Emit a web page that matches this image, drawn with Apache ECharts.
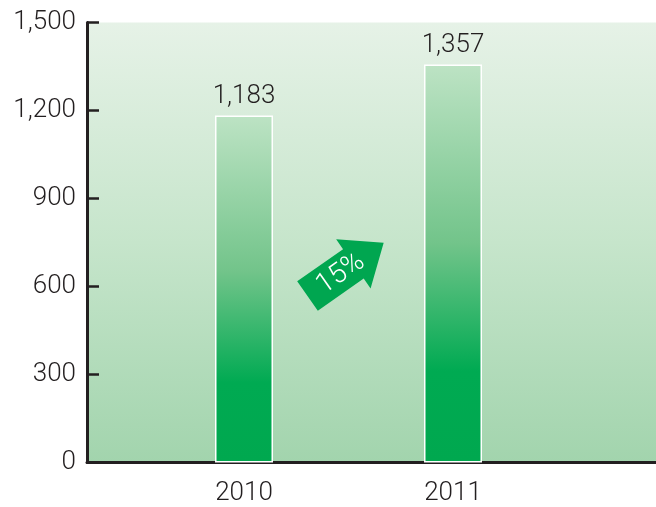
<!DOCTYPE html>
<html>
<head>
<meta charset="utf-8">
<script src="https://cdn.jsdelivr.net/npm/echarts@6/dist/echarts.min.js"></script>
<style>
  html, body { margin: 0; padding: 0; background: #fff; }
  #chart { width: 656px; height: 507px; }
</style>
</head>
<body>
<div id="chart"></div>
<script>
// data
const years = ['2010', '2011']
const values = [1183, 1357]
const yTicks = { min: 0, max: 1500, interval: 300 }
const growthText = '15%'

const font = 'Roboto, "Liberation Sans", sans-serif'
const axisColor = '#231f20'
const textColor = '#231f20'

const chart = echarts.init(document.getElementById('chart'))

const barGradient = {
  type: 'linear', x: 0, y: 0, x2: 0, y2: 1,
  colorStops: [
    { offset: 0, color: '#bde3c4' },
    { offset: 0.45, color: '#72c48a' },
    { offset: 0.77, color: '#00aa52' },
    { offset: 1, color: '#00a84f' }
  ]
}

// arrow shape in local coords (x along arrow)
const arrowPts = [[0, -18], [56, -18], [56, -30], [93, 0], [56, 30], [56, 18], [0, 18]]

const option = {
  animation: false,
  grid: [
    // frame + background
    {
      left: 87, right: 0, top: 22.5, bottom: 44.5,
      show: true, borderWidth: 0,
      backgroundColor: {
        type: 'linear', x: 0, y: 0, x2: 0, y2: 1,
        colorStops: [
          { offset: 0, color: '#e6f2e7' },
          { offset: 0.5, color: '#c6e5cb' },
          { offset: 1, color: '#a2d4ad' }
        ]
      }
    },
    // bars
    { left: 139.5, right: 98.5, top: 22.5, bottom: 44.5 }
  ],
  xAxis: [
    {
      gridIndex: 0, type: 'value', min: 0, max: 1,
      axisLine: { show: true, onZero: false, lineStyle: { color: axisColor, width: 3 } },
      axisTick: { show: false }, axisLabel: { show: false }, splitLine: { show: false }
    },
    {
      gridIndex: 1, type: 'category', data: years,
      axisLine: { show: false }, axisTick: { show: false },
      axisLabel: { color: textColor, fontSize: 26, fontFamily: font, fontWeight: 300, margin: 18 }
    }
  ],
  yAxis: [
    {
      gridIndex: 0, type: 'value', min: yTicks.min, max: yTicks.max, interval: yTicks.interval,
      axisLine: { show: true, lineStyle: { color: axisColor, width: 3 } },
      axisTick: { show: true, inside: true, length: 12, lineStyle: { color: axisColor, width: 2.5 } },
      axisLabel: {
        color: textColor, fontSize: 26, fontFamily: font, fontWeight: 300, margin: 11,
        formatter: v => v.toLocaleString('en-US')
      },
      splitLine: { show: false }
    },
    {
      gridIndex: 1, type: 'value', min: yTicks.min, max: yTicks.max,
      show: false
    }
  ],
  series: [
    {
      type: 'bar',
      xAxisIndex: 1, yAxisIndex: 1,
      data: values,
      barWidth: 58,
      itemStyle: { color: barGradient, borderColor: '#ffffff', borderWidth: 1.5 },
      label: {
        show: true, position: 'top', distance: 6,
        color: textColor, fontSize: 26, fontFamily: font, fontWeight: 300,
        formatter: p => p.value.toLocaleString('en-US')
      }
    }
  ],
  graphic: [
    {
      type: 'group',
      x: 307.5, y: 296,
      rotation: 35 * Math.PI / 180,
      children: [
        {
          type: 'polygon',
          shape: { points: arrowPts },
          style: { fill: '#00a650' }
        },
        {
          type: 'text',
          x: 40, y: 1,
          style: {
            text: growthText, fill: '#fff', fontSize: 28, fontFamily: font, fontWeight: 300,
            align: 'center', verticalAlign: 'middle'
          }
        }
      ]
    }
  ]
}

chart.setOption(option)
</script>
</body>
</html>
